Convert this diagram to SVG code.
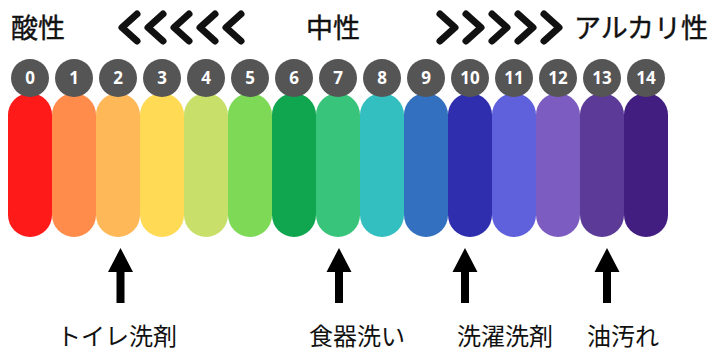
<svg xmlns="http://www.w3.org/2000/svg" width="723" height="353" viewBox="0 0 723 353">
  <style>
    .hdr { font-family: "Noto Sans CJK JP", "Noto Sans", sans-serif; font-size: 27px; font-weight: normal; fill: #111; stroke: #111; stroke-width: 0.4; }
    .lbl { font-family: "Noto Sans CJK JP", "Noto Sans", sans-serif; font-size: 24px; fill: #111; }
    .num { font-family: "Open Sans", "Noto Sans", sans-serif; font-size: 17px; font-weight: bold; fill: #fff; text-anchor: middle; }
    .chev { fill: none; stroke: #111; stroke-width: 7; stroke-linecap: round; stroke-linejoin: round; }
    .circ { fill: #555555; }
    .arrow { fill: #000; }
  </style>
  <defs>
    <path id="chevL" class="chev" d="M19,14 L4,27.5 L19,41"/>
    <path id="chevR" class="chev" d="M4,14 L19,27.5 L4,41"/>
    <path id="upArrow" d="M0,0 L12.5,24 L4,24 L4,55 L-4,55 L-4,24 L-12.5,24 Z"/>
    <rect id="bar" x="0" y="93" width="44" height="144" rx="22" ry="22"/>
  </defs>

  <rect width="723" height="353" fill="#ffffff"/>

  <g id="header">
    <text class="hdr" x="11" y="38">酸性</text>
    <g id="chevrons-left">
      <use href="#chevL" x="118" y="0"/>
      <use href="#chevL" x="144" y="0"/>
      <use href="#chevL" x="170" y="0"/>
      <use href="#chevL" x="196" y="0"/>
      <use href="#chevL" x="222" y="0"/>
    </g>
    <text class="hdr" x="306" y="38">中性</text>
    <g id="chevrons-right">
      <use href="#chevR" x="436" y="0"/>
      <use href="#chevR" x="462" y="0"/>
      <use href="#chevR" x="488" y="0"/>
      <use href="#chevR" x="514" y="0"/>
      <use href="#chevR" x="540" y="0"/>
    </g>
    <text class="hdr" x="574" y="38">アルカリ性</text>
  </g>

  <g id="ph0"><use href="#bar" x="8" fill="#FF1A1A"/><circle class="circ" cx="30" cy="78" r="19"/><text class="num" x="30" y="84">0</text></g>
  <g id="ph1"><use href="#bar" x="52" fill="#FF8C4A"/><circle class="circ" cx="74" cy="78" r="19"/><text class="num" x="74" y="84">1</text></g>
  <g id="ph2"><use href="#bar" x="96" fill="#FFB858"/><circle class="circ" cx="118" cy="78" r="19"/><text class="num" x="118" y="84">2</text></g>
  <g id="ph3"><use href="#bar" x="140" fill="#FFDB55"/><circle class="circ" cx="162" cy="78" r="19"/><text class="num" x="162" y="84">3</text></g>
  <g id="ph4"><use href="#bar" x="184" fill="#C8E06A"/><circle class="circ" cx="206" cy="78" r="19"/><text class="num" x="206" y="84">4</text></g>
  <g id="ph5"><use href="#bar" x="228" fill="#7ED957"/><circle class="circ" cx="250" cy="78" r="19"/><text class="num" x="250" y="84">5</text></g>
  <g id="ph6"><use href="#bar" x="272" fill="#0FA64F"/><circle class="circ" cx="294" cy="78" r="19"/><text class="num" x="294" y="84">6</text></g>
  <g id="ph7"><use href="#bar" x="316" fill="#38C47A"/><circle class="circ" cx="338" cy="78" r="19"/><text class="num" x="338" y="84">7</text></g>
  <g id="ph8"><use href="#bar" x="360" fill="#33BFC0"/><circle class="circ" cx="382" cy="78" r="19"/><text class="num" x="382" y="84">8</text></g>
  <g id="ph9"><use href="#bar" x="404" fill="#3370BF"/><circle class="circ" cx="426" cy="78" r="19"/><text class="num" x="426" y="84">9</text></g>
  <g id="ph10"><use href="#bar" x="448" fill="#2E2EAF"/><circle class="circ" cx="470" cy="78" r="19"/><text class="num" x="470" y="84">10</text></g>
  <g id="ph11"><use href="#bar" x="492" fill="#5F60DB"/><circle class="circ" cx="514" cy="78" r="19"/><text class="num" x="514" y="84">11</text></g>
  <g id="ph12"><use href="#bar" x="536" fill="#7C5CC0"/><circle class="circ" cx="558" cy="78" r="19"/><text class="num" x="558" y="84">12</text></g>
  <g id="ph13"><use href="#bar" x="580" fill="#5C3A97"/><circle class="circ" cx="602" cy="78" r="19"/><text class="num" x="602" y="84">13</text></g>
  <g id="ph14"><use href="#bar" x="624" fill="#421E80"/><circle class="circ" cx="646" cy="78" r="19"/><text class="num" x="646" y="84">14</text></g>

  <g id="connectors" class="arrow">
    <use href="#upArrow" transform="translate(120.5,248)"/>
    <use href="#upArrow" transform="translate(339,248)"/>
    <use href="#upArrow" transform="translate(465,248)"/>
    <use href="#upArrow" transform="translate(607,248)"/>
  </g>

  <g id="labels">
    <text class="lbl" x="57" y="345">トイレ洗剤</text>
    <text class="lbl" x="309" y="345">食器洗い</text>
    <text class="lbl" x="457" y="345">洗濯洗剤</text>
    <text class="lbl" x="587" y="345">油汚れ</text>
  </g>
</svg>
